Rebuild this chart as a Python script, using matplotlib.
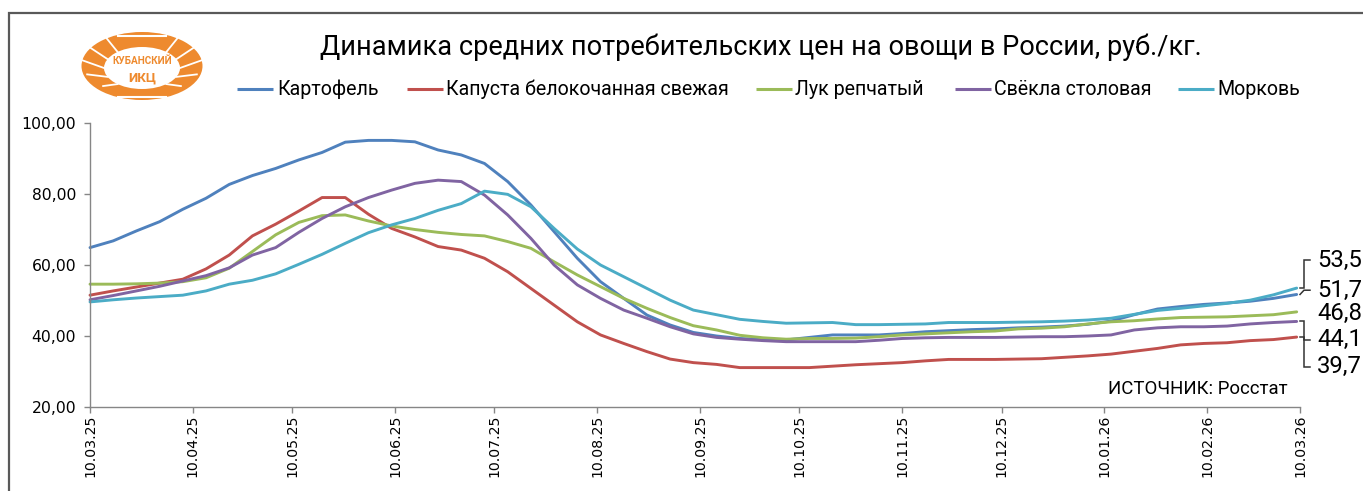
import numpy as np
import pandas as pd
import matplotlib
matplotlib.use("Agg")
import matplotlib.pyplot as plt
import matplotlib.dates as mdates
import matplotlib.ticker as mticker
import matplotlib.transforms as mtransforms
from matplotlib.patches import Ellipse
from matplotlib.lines import Line2D

# ---------------- data ----------------
title = "Динамика средних потребительских цен на овощи в России, руб./кг."
series_names = ["Картофель", "Капуста белокочанная свежая", "Лук репчатый",
                "Свёкла столовая", "Морковь"]
start_date = "2025-03-10"
n_weeks = 53

potato = [64.9, 66.8, 69.6, 72.2, 75.7, 78.8, 82.7, 85.2, 87.2, 89.6, 91.7, 94.6, 95.1,
          95.1, 94.7, 92.4, 91.0, 88.6, 83.5, 76.9, 69.4, 61.9, 55.3, 50.6, 45.9, 43.1,
          41.0, 40.0, 39.3, 39.0, 38.9, 39.6, 40.3, 40.3, 40.3, 40.7, 41.2, 41.5, 41.8,
          42.0, 42.3, 42.5, 42.8, 43.3, 44.2, 46.0, 47.6, 48.3, 48.9, 49.3, 49.8, 50.6, 51.7]
cabbage = [51.5, 52.7, 53.8, 54.9, 56.0, 58.9, 62.8, 68.2, 71.5, 75.2, 79.0, 79.0, 74.3,
           70.3, 67.9, 65.2, 64.2, 61.9, 58.1, 53.4, 48.7, 44.0, 40.3, 37.9, 35.6, 33.5,
           32.5, 32.0, 31.1, 31.1, 31.1, 31.1, 31.5, 31.9, 32.2, 32.5, 33.0, 33.4, 33.4,
           33.4, 33.5, 33.6, 34.0, 34.4, 34.9, 35.7, 36.5, 37.5, 37.9, 38.1, 38.7, 39.0, 39.7]
onion = [54.6, 54.6, 54.7, 54.9, 55.3, 56.4, 59.1, 63.8, 68.5, 72.0, 73.9, 74.1, 72.4,
         71.0, 70.0, 69.2, 68.6, 68.2, 66.6, 64.7, 60.9, 57.2, 53.9, 50.6, 47.8, 45.2,
         42.9, 41.7, 40.2, 39.5, 39.1, 39.3, 39.3, 39.4, 39.8, 40.3, 40.6, 40.9, 41.2,
         41.4, 42.0, 42.2, 42.6, 43.4, 44.0, 44.3, 44.8, 45.2, 45.3, 45.4, 45.7, 46.0, 46.8]
beet = [50.2, 51.4, 52.7, 54.0, 55.5, 57.0, 59.2, 62.8, 64.9, 69.2, 73.1, 76.4, 79.0,
        81.1, 83.0, 83.9, 83.5, 79.7, 74.1, 67.5, 60.0, 54.4, 50.6, 47.3, 45.0, 42.6,
        40.6, 39.6, 39.1, 38.7, 38.4, 38.4, 38.4, 38.4, 38.8, 39.3, 39.5, 39.6, 39.6,
        39.6, 39.7, 39.8, 39.8, 40.0, 40.3, 41.7, 42.3, 42.6, 42.6, 42.8, 43.4, 43.8, 44.1]
carrot = [49.6, 50.2, 50.7, 51.1, 51.5, 52.7, 54.6, 55.7, 57.5, 60.2, 63.0, 66.1, 69.1,
          71.3, 73.1, 75.4, 77.3, 80.8, 79.9, 76.4, 70.3, 64.5, 60.0, 56.7, 53.4, 50.1,
          47.3, 46.0, 44.7, 44.1, 43.6, 43.7, 43.8, 43.2, 43.2, 43.3, 43.4, 43.8, 43.8,
          43.8, 43.9, 44.0, 44.2, 44.5, 45.0, 46.1, 47.2, 47.8, 48.5, 49.2, 50.1, 51.6, 53.5]

last_labels = ["53,5", "51,7", "46,8", "44,1", "39,7"]
y_ticks = [20, 40, 60, 80, 100]
source_text = "ИСТОЧНИК: Росстат"
logo_line1 = "КУБАНСКИЙ"
logo_line2 = "ИКЦ"

colors = ["#4F81BD", "#C0504D", "#9BBB59", "#8064A2", "#4BACC6"]
series = [potato, cabbage, onion, beet, carrot]

# ---------------- figure ----------------
W, H = 1363, 491
fig = plt.figure(figsize=(W / 100, H / 100), dpi=100)
renderer = fig.canvas.get_renderer()

TXT = "Roboto"
TCK = "DejaVu Sans"


def fit_fs(s, target_px, family, weight="normal"):
    t = fig.text(0, 0, s, fontsize=20, family=family, weight=weight)
    w = t.get_window_extent(renderer=renderer).width
    t.remove()
    return 20.0 * target_px / w


# overlay axes in pixel coordinates (frame, logo, legend, title)
ov = fig.add_axes([0, 0, 1, 1], zorder=0)
ov.set_xlim(0, W)
ov.set_ylim(H, 0)
ov.axis("off")

# outer frame (top and left sides visible)
ov.plot([9, 9, W + 5], [H + 5, 13, 13], color="#595959", lw=1.6,
        solid_joinstyle="miter", clip_on=False)

# logo
orange = "#EE8A2E"
ov.add_patch(Ellipse((142, 66), 121, 68, facecolor=orange, edgecolor="none"))
ov.add_patch(Ellipse((142, 68), 76, 42, facecolor="white", edgecolor="none"))
for side in (-1, 1):
    for ang in (-50, -25, 0, 25, 50):
        a = np.deg2rad(ang)
        x0 = 142 + side * 38 * np.cos(a) * 1.0
        y0 = 68 + 21 * np.sin(a)
        x1 = 142 + side * 60.5 * np.cos(a + np.deg2rad(8) * side * 0)
        y1 = 66 + 34 * np.sin(a) - 6
        ov.plot([x0, x1], [y0, y1], color="white", lw=1.3)
# top/bottom arrow gaps
ov.plot([118, 166], [35.5, 35.5], color="white", lw=1.5)
ov.plot([118, 166], [96.5, 96.5], color="white", lw=1.5)
fs_l1 = fit_fs(logo_line1, 60, TXT, "bold")
fs_l2 = fit_fs(logo_line2, 28, TXT, "bold")
ov.text(142, 61, logo_line1, fontsize=fs_l1, family=TXT, weight="bold",
        color=orange, ha="center", va="center")
ov.text(142, 78, logo_line2, fontsize=fs_l2, family=TXT, weight="bold",
        color=orange, ha="center", va="center")

# title
fs_title = fit_fs(title, 878, TXT)
ov.text(761, 47, title, fontsize=fs_title, family=TXT, color="black",
        ha="center", va="center")

# legend (manual, one row)
fs_leg = fit_fs(series_names[1], 284, TXT)
leg_line_x = [237, 407, 756, 955, 1178]
leg_text_x = [277, 446, 795, 994, 1217]
leg_y = 89
for name, c, lx, tx in zip(series_names, colors, leg_line_x, leg_text_x):
    ov.plot([lx, lx + 36], [leg_y, leg_y], color=c, lw=2.2, solid_capstyle="butt")
    ov.text(tx, leg_y, name, fontsize=fs_leg, family=TXT, color="black",
            ha="left", va="center")

# ---------------- chart axes ----------------
ax = fig.add_axes([90 / W, 1 - 407 / H, 1210 / W, 284 / H], zorder=2)
ax.patch.set_alpha(0)
dates = pd.date_range(start_date, periods=n_weeks, freq="7D")
xd = mdates.date2num(dates.to_pydatetime())

for vals, c in zip(series, colors):
    ax.plot(xd, vals, color=c, lw=2.1, solid_joinstyle="round",
            solid_capstyle="round", clip_on=False)

tick_dates = pd.date_range("2025-03-10", "2026-03-10", freq=pd.DateOffset(months=1))
ax.set_xlim(mdates.date2num(pd.Timestamp("2025-03-10").to_pydatetime()),
            mdates.date2num(pd.Timestamp("2026-03-10").to_pydatetime()))
ax.set_xticks(mdates.date2num(tick_dates.to_pydatetime()))
ax.set_xticklabels([d.strftime("%d.%m.%y") for d in tick_dates])
ax.set_ylim(20, 100)
ax.set_yticks(y_ticks)
ax.yaxis.set_major_formatter(mticker.FuncFormatter(lambda v, p: f"{v:.2f}".replace(".", ",")))

for s in ("top", "right"):
    ax.spines[s].set_visible(False)
for s in ("left", "bottom"):
    ax.spines[s].set_color("#868686")
    ax.spines[s].set_linewidth(1.0)

fs_x = fit_fs("10.03.25", 63, TCK)
fs_y = fit_fs("20,00", 45, TCK)
ax.tick_params(axis="x", length=4, width=1, color="#868686", pad=1.5,
               labelrotation=90, labelsize=fs_x, labelcolor="black")
ax.tick_params(axis="y", length=4, width=1, color="#868686", pad=6,
               labelsize=fs_y, labelcolor="black")
for lab in ax.get_xticklabels() + ax.get_yticklabels():
    lab.set_family(TCK)

# end-value labels with leader lines
tr = mtransforms.blended_transform_factory(ax.transAxes, ax.transData)
xb = 1 + 4 / 1210
xs = 1 + 10 / 1210
xl = 1 + 17 / 1210
label_y = [61.3, 52.9, 46.3, 39.0, 31.3]
ends = [carrot[-1], potato[-1], onion[-1], beet[-1], cabbage[-1]]
lead = dict(color="#333333", lw=1.1, transform=tr, clip_on=False,
            solid_joinstyle="miter")
# carrot -> 53,5
ax.plot([1.0, xb, xb, xs], [ends[0], ends[0], label_y[0], label_y[0]], **lead)
# potato -> 51,7
ax.plot([1.0, xb, xs], [ends[1], label_y[1], label_y[1]], **lead)
# beet -> 44,1
ax.plot([1.0, xb, xb, xs], [ends[3], ends[3], label_y[3], label_y[3]], **lead)
# cabbage -> 39,7
ax.plot([1.0, xb, xb, xs], [ends[4], ends[4], label_y[4], label_y[4]], **lead)

fs_end = fit_fs("53,5", 45, TXT)
for lab, ly in zip(last_labels, label_y):
    ax.text(xl, ly, lab, transform=tr, fontsize=fs_end, family=TXT,
            color="black", ha="left", va="center", clip_on=False)

# source
fs_src = fit_fs(source_text, 180, TXT)
ov.text(1288, 389, source_text, fontsize=fs_src, family=TXT, color="black",
        ha="right", va="center", zorder=5)

fig.savefig("out.png", dpi=100)
